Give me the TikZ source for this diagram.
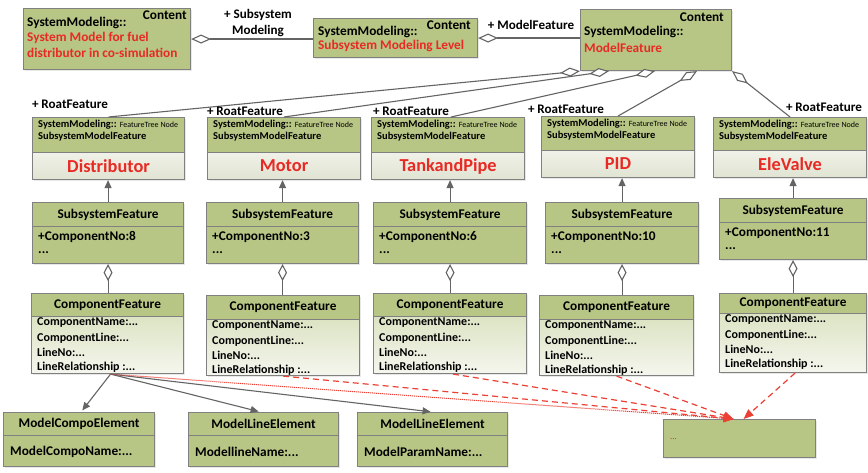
\documentclass[tikz,border=0pt]{standalone}
\usepackage{fontspec}
\setmainfont{Carlito}
\usetikzlibrary{arrows.meta,shadows,calc}

\definecolor{boxgreen}{RGB}{183,198,133}
\definecolor{boxline}{RGB}{128,128,128}
\definecolor{linkgray}{RGB}{100,100,100}
\definecolor{redtext}{RGB}{232,42,36}
\definecolor{reddash}{RGB}{236,64,52}
\definecolor{paletop}{RGB}{240,241,232}
\definecolor{palebot}{RGB}{224,228,210}
\definecolor{cftop}{RGB}{220,228,196}
\definecolor{cfbot}{RGB}{245,246,238}

\tikzset{
  box/.style={draw=boxline, line width=1.1pt, inner sep=0pt,
    drop shadow={shadow xshift=1.8pt, shadow yshift=-1.8pt, opacity=0.18}},
  greenfill/.style={fill=boxgreen},
  palebody/.style={top color=paletop, bottom color=palebot},
  cfbody/.style={top color=cftop, bottom color=cfbot},
  txt/.style={inner sep=0pt, font=\fontsize{13.3}{15}\selectfont\bfseries},
  redtxt/.style={txt, text=redtext},
  small/.style={inner sep=0pt, font=\fontsize{10.5}{12}\selectfont\bfseries},
  attr/.style={inner sep=0pt, font=\fontsize{12}{14}\selectfont\bfseries},
  bigred/.style={inner sep=0pt, text=redtext, font=\fontsize{18.3}{21}\selectfont\bfseries},
  role/.style={inner sep=0pt, font=\fontsize{13.1}{15}\selectfont\bfseries},
  link/.style={draw=linkgray, line width=1.1pt},
  agg/.style={link, {Diamond[fill=white, length=20pt, width=9pt]}-},
  aggv/.style={link, {Diamond[fill=white, length=17pt, width=9pt]}-},
  gen/.style={link, -{Triangle[length=8pt, width=7pt]}},
  use/.style={link, -{Triangle[length=8pt, width=7pt]}, shorten >=2pt},
  trace/.style={draw=reddash, line width=1.2pt, dash pattern=on 6pt off 4pt,
    -{Triangle[length=10pt, width=8pt]}},
  tracedot/.style={trace, line width=1pt, dash pattern=on 1.2pt off 0.8pt}
}

% header/body class box: name, left, top, right, divider, bottom,
% header style, body style, header text
\newcommand\umlbox[9]{%
  \node[box, #7, anchor=north west, minimum width={#4-#2}, minimum height={#5-#3},
        font=\fontsize{13.3}{15}\selectfont\bfseries] (#1h) at (#2,#3) {#9};
  \node[box, #8, anchor=north west, minimum width={#4-#2}, minimum height={#6-#5}]
        (#1b) at (#2,#5) {};
}

\begin{document}
\begin{tikzpicture}[x=1pt, y=-1pt]
\fill[white] (0,0) rectangle (868,473);
\useasboundingbox (0,0) rectangle (868,473);

% ---- top level content boxes
\node[box, greenfill, anchor=north west, minimum width=167, minimum height=61] (b1) at (23,8) {};
\node[txt, anchor=east] (b1c) at (187,15) {Content};
\node[txt, anchor=west] (b1s) at (27,23) {SystemModeling::};
\node[redtxt, anchor=west] (b1r1) at (27,38) {System Model for fuel};
\node[redtxt, anchor=west] (b1r2) at (27,53) {distributor in co-simulation};

\node[box, greenfill, anchor=north west, minimum width=164, minimum height=39] (b2) at (313,18) {};
\node[txt, anchor=east] (b2c) at (471,25) {Content};
\node[txt, anchor=west] (b2s) at (318,32) {SystemModeling::};
\node[redtxt, anchor=west] (b2r) at (318,46) {Subsystem Modeling Level};

\node[box, greenfill, anchor=north west, minimum width=151, minimum height=61] (mf) at (580,9) {};
\node[txt, anchor=east] (mfc) at (724,17) {Content};
\node[txt, anchor=west] (mfs) at (584,32) {SystemModeling::};
\node[redtxt, anchor=west] (mfr) at (584,48) {ModelFeature};

\draw[agg] (b1.east) -- (b1.east -| b2.west);
\node[role] (l1a) at (258,15) {+ Subsystem};
\node[role] (l1b) at (258,31) {Modeling};
\draw[agg] (b2.east) -- (b2.east -| mf.west);
\node[role] (l2) at (531,25) {+ ModelFeature};

% ---- subsystem model features
\umlbox{fD}{32}{117}{184}{152}{179}{greenfill}{palebody}{}
\umlbox{fM}{207}{117}{360}{152}{179}{greenfill}{palebody}{}
\umlbox{fT}{371}{117}{524}{152}{179}{greenfill}{palebody}{}
\umlbox{fP}{541}{116}{694}{150}{177}{greenfill}{palebody}{}
\umlbox{fE}{713}{117}{866}{150}{177}{greenfill}{palebody}{}

\foreach \n/\x/\y in {fD/38/124, fM/213/124, fT/377/124, fP/547/123, fE/719/124} {
  \node[small, anchor=base west] (\n-kind) at (\x,\y+3.5)
    {SystemModeling:: {\fontsize{8}{9}\selectfont\mdseries FeatureTree Node}};
  \node[small, anchor=base west] (\n-type) at (\x,\y+15.5) {SubsystemModelFeature};
}
\node[bigred] (fD-name) at (fDb) {Distributor};
\node[bigred] (fM-name) at (fMb) {Motor};
\node[bigred] (fT-name) at (fTb) {TankandPipe};
\node[bigred] (fP-name) at (fPb) {PID};
\node[bigred] (fE-name) at (fEb) {EleValve};

% aggregation from the model feature
\draw[agg] (mf.south west) -- (fDh.north);
\draw[agg] ([xshift=29pt]mf.south west) -- (fMh.north);
\draw[agg] ([xshift=75pt]mf.south west) -- ([xshift=3pt]fTh.north);
\draw[agg] ([xshift=117pt]mf.south west) -- (fPh.north);
\draw[agg] (mf.south east) -- (fEh.north);
\node[role] (rD) at (70,104) {+ RoatFeature};
\node[role] (rM) at (245,111) {+ RoatFeature};
\node[role] (rT) at (411,111) {+ RoatFeature};
\node[role] (rP) at (566,109) {+ RoatFeature};
\node[role] (rE) at (824,107) {+ RoatFeature};

% ---- subsystem features
\umlbox{sD}{32}{202}{183}{226}{263}{greenfill}{greenfill}{SubsystemFeature}
\umlbox{sM}{206}{202}{358}{226}{263}{greenfill}{greenfill}{SubsystemFeature}
\umlbox{sT}{373}{202}{526}{226}{263}{greenfill}{greenfill}{SubsystemFeature}
\umlbox{sP}{545}{202}{698}{226}{263}{greenfill}{greenfill}{SubsystemFeature}
\umlbox{sE}{719}{198}{866}{222}{259}{greenfill}{greenfill}{SubsystemFeature}

\foreach \n/\x/\y/\k in {sD/38/226/8, sM/212/226/3, sT/379/226/6, sP/551/226/10, sE/725/222/11} {
  \node[txt, anchor=west] (\n-count) at (\x,\y+11) {+ComponentNo:\k};
  \node[txt, anchor=west] (\n-more) at (\x,\y+27) {...};
}

\foreach \n in {D,M,T,P,E} {
  \draw[gen] (s\n h.north) -- (s\n h.north |- f\n b.south);
}

% ---- component features
\umlbox{cD}{31}{293}{183}{316}{373}{greenfill}{cfbody}{ComponentFeature}
\umlbox{cM}{206}{295}{359}{319}{375}{greenfill}{cfbody}{ComponentFeature}
\umlbox{cT}{373}{293}{526}{316}{373}{greenfill}{cfbody}{ComponentFeature}
\umlbox{cP}{539}{295}{693}{319}{375}{greenfill}{cfbody}{ComponentFeature}
\umlbox{cE}{719}{293}{866}{313}{372}{greenfill}{cfbody}{ComponentFeature}

\foreach \n/\x/\y in {cD/37/316, cM/212/319, cT/379/316, cP/545/319, cE/725/313} {
  \node[attr, anchor=west] (\n-f1) at (\x,\y+7) {ComponentName:...};
  \node[attr, anchor=west] (\n-f2) at (\x,\y+22) {ComponentLine:...};
  \node[attr, anchor=west] (\n-f3) at (\x,\y+36) {LineNo:...};
  \node[attr, anchor=west] (\n-f4) at (\x,\y+51) {LineRelationship :...};
}

\foreach \n in {D,M,T,P,E} {
  \draw[aggv] (s\n b.south) -- (s\n b.south |- c\n h.north);
}

% ---- model elements
\umlbox{mC}{3}{412}{154}{435}{466}{greenfill}{greenfill}{ModelCompoElement}
\umlbox{mL}{188}{412}{338}{435}{466}{greenfill}{greenfill}{ModelLineElement}
\umlbox{mP}{357}{412}{507}{435}{466}{greenfill}{greenfill}{ModelLineElement}
\node[txt, anchor=west] (mC-attr) at (10,452) {ModelCompoName:...};
\node[txt, anchor=west] (mL-attr) at (195,452) {ModellineName:...};
\node[txt, anchor=west] (mP-attr) at (364,452) {ModelParamName:...};

\draw[use] ([xshift=3pt]cDb.south) -- ([xshift=2pt]mCh.north);
\draw[use] ([xshift=3pt]cDb.south) -- ([xshift=-3pt]mLh.north);
\draw[use] ([xshift=3pt]cDb.south) -- (mPh.north);

% ---- trace target
\node[box, greenfill, anchor=north west, minimum width=152, minimum height=38] (tg) at (663,419) {};
\node[inner sep=0pt, text=redtext, font=\fontsize{9}{10}\selectfont, anchor=west] (tg-dots) at (670,439) {...};

\draw[tracedot] ([xshift=3pt]cDb.south) -- ([xshift=-6pt]tg.north);
\draw[trace] (cMb.south) -- ([xshift=-6pt]tg.north);
\draw[trace] ([xshift=3pt]cTb.south) -- ([xshift=-6pt]tg.north);
\draw[trace] (cPb.south) -- ([xshift=-6pt]tg.north);
\draw[trace] ([xshift=2pt]cEb.south) -- ([xshift=4pt]tg.north);
\end{tikzpicture}
\end{document}
